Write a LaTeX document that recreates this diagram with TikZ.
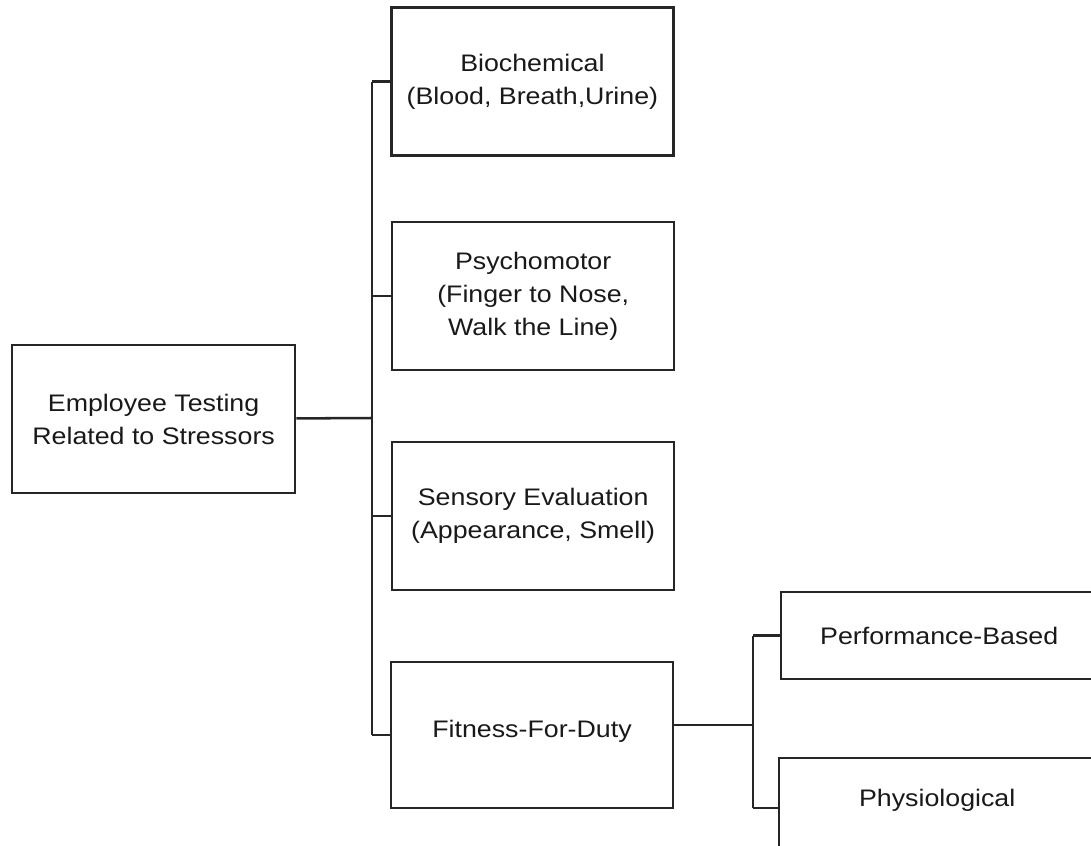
\documentclass[tikz,border=0pt]{standalone}
\usepackage{fontspec}
\setmainfont[FakeStretch=1.12]{Liberation Sans}
\usetikzlibrary{positioning}

\tikzset{
    testbox/.style={draw=black!85, line width=1.8pt, align=center,
        minimum width=7.05cm, minimum height=3.7cm, inner sep=2pt,
        font=\fontsize{17}{23.5}\selectfont, text=black!90},
    sidebox/.style={testbox, minimum width=7.9cm},
    branch/.style={draw=black!85, line width=1.8pt}
}

\begin{document}
\begin{tikzpicture}
    \useasboundingbox (0,0) rectangle (27.275,-21.125);
    \clip (0,0) rectangle (27.275,-21.125);

    %%% Root %%%
    \node[testbox, minimum width=7.08cm] (root) at (3.84,-10.48) {Employee Testing\\Related to Stressors};

    %%% Test kinds %%%
    \node[testbox] (bio) at (13.31,-2.04) {Biochemical\\(Blood, Breath,Urine)};
    \node[testbox] (psy) at (13.33,-7.40) {Psychomotor\\(Finger to Nose,\\Walk the Line)};
    \node[testbox] (sen) at (13.33,-12.90) {Sensory Evaluation\\(Appearance, Smell)};
    \node[testbox, minimum height=3.65cm] (fit) at (13.30,-18.38) {Fitness-For-Duty\\[-0.5cm]};

    %%% Fitness kinds %%%
    \node[sidebox, minimum height=2.18cm] (perf) at (23.48,-15.89) {Performance-Based};
    \node[sidebox, minimum height=2.5cm] (phys) at (23.43,-20.20) {Physiological\\[-0.3cm]};

    %%% Connectors %%%
    \coordinate (trunk) at (9.30,-10.45);
    \coordinate (split) at (18.825,-18.13);
    \draw[branch] (root) -- (trunk);
    \draw[branch] (trunk |- bio.west) -- (trunk |- fit.west);
    \foreach \kind in {bio,psy,sen,fit}
        \draw[branch] (\kind.west) -- (trunk |- \kind.west);
    \draw[branch] (fit.east |- split) -- (split);
    \draw[branch] (split |- perf.west) -- (split |- phys.west);
    \draw[branch] (perf.west) -- (split |- perf.west);
    \draw[branch] (phys.west) -- (split |- phys.west);
\end{tikzpicture}
\end{document}
